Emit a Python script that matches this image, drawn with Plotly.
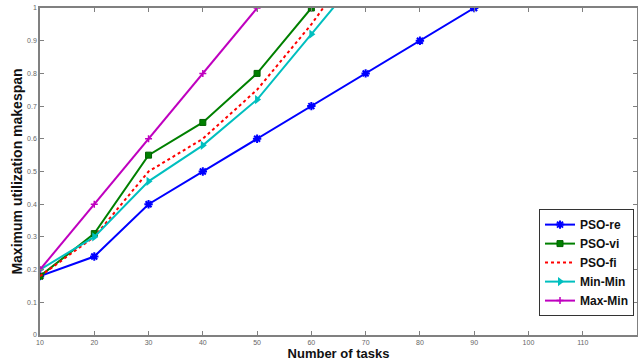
import plotly.graph_objects as go

tasks = [10, 20, 30, 40, 50, 60, 70, 80, 90]
pso_re = [0.18, 0.24, 0.40, 0.50, 0.60, 0.70, 0.80, 0.90, 1.00]
pso_vi_x = [10, 20, 30, 40, 50, 60]
pso_vi = [0.18, 0.31, 0.55, 0.65, 0.80, 1.00]
pso_fi_x = [10, 20, 30, 40, 50, 60, 70]
pso_fi = [0.18, 0.30, 0.50, 0.60, 0.75, 0.95, 1.18]
minmin_x = [10, 20, 30, 40, 50, 60, 70]
minmin = [0.20, 0.30, 0.47, 0.58, 0.72, 0.92, 1.12]
maxmin_x = [10, 20, 30, 40, 50]
maxmin = [0.20, 0.40, 0.60, 0.80, 1.00]

x_ticks = [10, 20, 30, 40, 50, 60, 70, 80, 90, 100, 110, 120]
y_ticks = [0, 0.1, 0.2, 0.3, 0.4, 0.5, 0.6, 0.7, 0.8, 0.9, 1]
y_tick_labels = ["0", "0.1", "0.2", "0.3", "0.4", "0.5", "0.6", "0.7", "0.8", "0.9", "1"]

FONT = "Liberation Sans, Arial"

fig = go.Figure()
fig.add_trace(go.Scatter(x=tasks, y=pso_re, name="PSO-re", mode="lines+markers",
                         line=dict(color="#0000FF", width=2),
                         marker=dict(symbol="asterisk-open", size=7, line=dict(color="#0000FF", width=2))))
fig.add_trace(go.Scatter(x=pso_vi_x, y=pso_vi, name="PSO-vi", mode="lines+markers",
                         line=dict(color="#008000", width=2),
                         marker=dict(symbol="square", size=6, color="#008000", line=dict(color="#006000", width=1))))
fig.add_trace(go.Scatter(x=pso_fi_x, y=pso_fi, name="PSO-fi", mode="lines",
                         line=dict(color="#FF0000", width=2, dash="dot")))
fig.add_trace(go.Scatter(x=minmin_x, y=minmin, name="Min-Min", mode="lines+markers",
                         line=dict(color="#00BFBF", width=2),
                         marker=dict(symbol="triangle-right", size=8, color="#00BFBF")))
fig.add_trace(go.Scatter(x=maxmin_x, y=maxmin, name="Max-Min", mode="lines+markers",
                         line=dict(color="#BF00BF", width=2),
                         marker=dict(symbol="cross-thin-open", size=5, line=dict(color="#BF00BF", width=1.5))))

axis_common = dict(showgrid=False, zeroline=False, showline=True, mirror="ticks",
                   linecolor="#808080", linewidth=1.5, ticks="inside", ticklen=4,
                   tickcolor="#808080", tickfont=dict(size=7, color="#666666", family=FONT),
                   automargin=False)

fig.update_layout(
    width=638, height=363,
    margin=dict(l=40, r=1, t=8, b=28),
    paper_bgcolor="white", plot_bgcolor="white",
    xaxis=dict(range=[10, 120], tickvals=x_ticks,
               title=dict(text="Number of tasks", standoff=4,
                          font=dict(size=13, color="#111111", family=FONT, weight="bold")),
               **axis_common),
    yaxis=dict(range=[0, 1], tickvals=y_ticks, ticktext=y_tick_labels,
               title=dict(text="Maximum utilization makespan", standoff=1,
                          font=dict(size=14, color="#111111", family=FONT, weight="bold")),
               **axis_common),
    legend=dict(x=0.995, y=0.385, xanchor="right", yanchor="top",
                bordercolor="#333333", borderwidth=1, bgcolor="white",
                font=dict(size=12, color="#111111", family=FONT, weight="bold"),
                tracegroupgap=0, itemwidth=30),
    showlegend=True,
)

fig.write_html("out.html", config={"displayModeBar": False},
               post_script="document.body.style.margin='0';document.body.style.padding='0';")
